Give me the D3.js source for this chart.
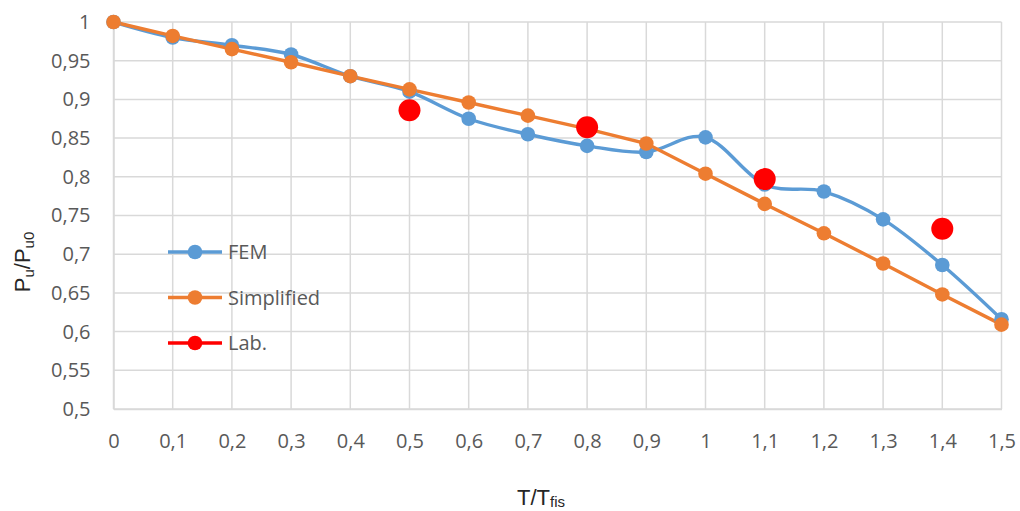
<!DOCTYPE html>
<html><head><meta charset="utf-8">
<script src="https://cdn.jsdelivr.net/npm/d3@7"></script>
<style>body{margin:0;background:#fff}svg{display:block}</style>
</head><body>
<svg id="c" width="1020" height="511"></svg>
<script>
const xValues = [0,0.1,0.2,0.3,0.4,0.5,0.6,0.7,0.8,0.9,1,1.1,1.2,1.3,1.4,1.5];
const femValues = [1,0.98,0.97,0.958,0.93,0.91,0.875,0.855,0.84,0.832,0.851,0.79,0.781,0.745,0.686,0.616];
const simplifiedValues = [1,0.982,0.965,0.948,0.93,0.913,0.896,0.879,0.862,0.843,0.804,0.765,0.727,0.688,0.648,0.609];
const labX = [0.5,0.8,1.1,1.4];
const labValues = [0.886,0.864,0.797,0.733];
const xTicks = [0,0.1,0.2,0.3,0.4,0.5,0.6,0.7,0.8,0.9,1,1.1,1.2,1.3,1.4,1.5];
const yTicks = [0.5,0.55,0.6,0.65,0.7,0.75,0.8,0.85,0.9,0.95,1];
const seriesNames = ["FEM","Simplified","Lab."];
const colors = ["#5b9bd5","#ed7d31","#ff0000"];

const svg = d3.select("#c");
const x = d3.scaleLinear().domain([0,1.5]).range([113.5,1001.5]);
const y = d3.scaleLinear().domain([0.5,1]).range([409,22]);
const fmt = v => String(+v.toFixed(2)).replace(".", ",");

// grid
svg.append("g").selectAll("line").data(yTicks).join("line")
  .attr("x1", x(0)).attr("x2", x(1.5)).attr("y1", d=>y(d)).attr("y2", d=>y(d))
  .attr("stroke","#d9d9d9").attr("stroke-width",1.5);
svg.append("g").selectAll("line").data(xTicks).join("line")
  .attr("x1", d=>x(d)).attr("x2", d=>x(d)).attr("y1", y(0.5)).attr("y2", y(1))
  .attr("stroke","#d9d9d9").attr("stroke-width",1.5);

// axes via d3
const xAxis = svg.append("g").attr("transform",`translate(0,${y(0.5)})`)
  .call(d3.axisBottom(x).tickValues(xTicks).tickFormat(fmt).tickSize(0).tickPadding(25));
const yAxis = svg.append("g").attr("transform",`translate(${x(0)},0)`)
  .call(d3.axisLeft(y).tickValues(yTicks).tickFormat(fmt).tickSize(0).tickPadding(23));
[xAxis,yAxis].forEach(a=>{
  a.select(".domain").attr("stroke","#d9d9d9").attr("stroke-width",1.5);
  a.selectAll("text").attr("fill","#595959").style("font-family","'Open Sans'").style("font-size","20px");
});

// lines
const femLine = d3.line().x((d,i)=>x(xValues[i])).y(d=>y(d)).curve(d3.curveCatmullRom.alpha(0));
const simLine = d3.line().x((d,i)=>x(xValues[i])).y(d=>y(d));
svg.append("path").datum(femValues).attr("d",femLine).attr("fill","none")
  .attr("stroke",colors[0]).attr("stroke-width",3.4);
svg.append("path").datum(simplifiedValues).attr("d",simLine).attr("fill","none")
  .attr("stroke",colors[1]).attr("stroke-width",3.4);

svg.append("g").selectAll("circle").data(femValues).join("circle")
  .attr("cx",(d,i)=>x(xValues[i])).attr("cy",d=>y(d)).attr("r",7.3).attr("fill",colors[0]);
svg.append("g").selectAll("circle").data(simplifiedValues).join("circle")
  .attr("cx",(d,i)=>x(xValues[i])).attr("cy",d=>y(d)).attr("r",7.3).attr("fill",colors[1]);
svg.append("g").selectAll("circle").data(labValues).join("circle")
  .attr("cx",(d,i)=>x(labX[i])).attr("cy",d=>y(d)).attr("r",11).attr("fill",colors[2]);

// legend
const lg = svg.append("g");
seriesNames.forEach((n,i)=>{
  const yy = 252 + i*45.5;
  lg.append("line").attr("x1",168).attr("x2",222).attr("y1",yy).attr("y2",yy)
    .attr("stroke",colors[i]).attr("stroke-width",3.4);
  lg.append("circle").attr("cx",195).attr("cy",yy).attr("r",7.3).attr("fill",colors[i]);
  lg.append("text").attr("x",228).attr("y",yy+7).text(n)
    .attr("fill","#595959").style("font-family","'Open Sans'").style("font-size","20px");
});

// titles
const yt = svg.append("text").attr("transform","translate(30,262) rotate(-90)")
  .attr("text-anchor","middle").attr("fill","#262626")
  .style("font-family","'Liberation Sans'").style("font-size","22px");
yt.append("tspan").text("P");
yt.append("tspan").text("u").attr("font-size","15px").attr("dy",4);
yt.append("tspan").text("/P").attr("dy",-4);
yt.append("tspan").text("u0").attr("font-size","15px").attr("dy",4);

const xt = svg.append("text").attr("x",541).attr("y",505)
  .attr("text-anchor","middle").attr("fill","#262626")
  .style("font-family","'Liberation Sans'").style("font-size","22px");
xt.append("tspan").text("T/T");
xt.append("tspan").text("fis").attr("font-size","15px").attr("dy",2);
</script>
</body></html>
